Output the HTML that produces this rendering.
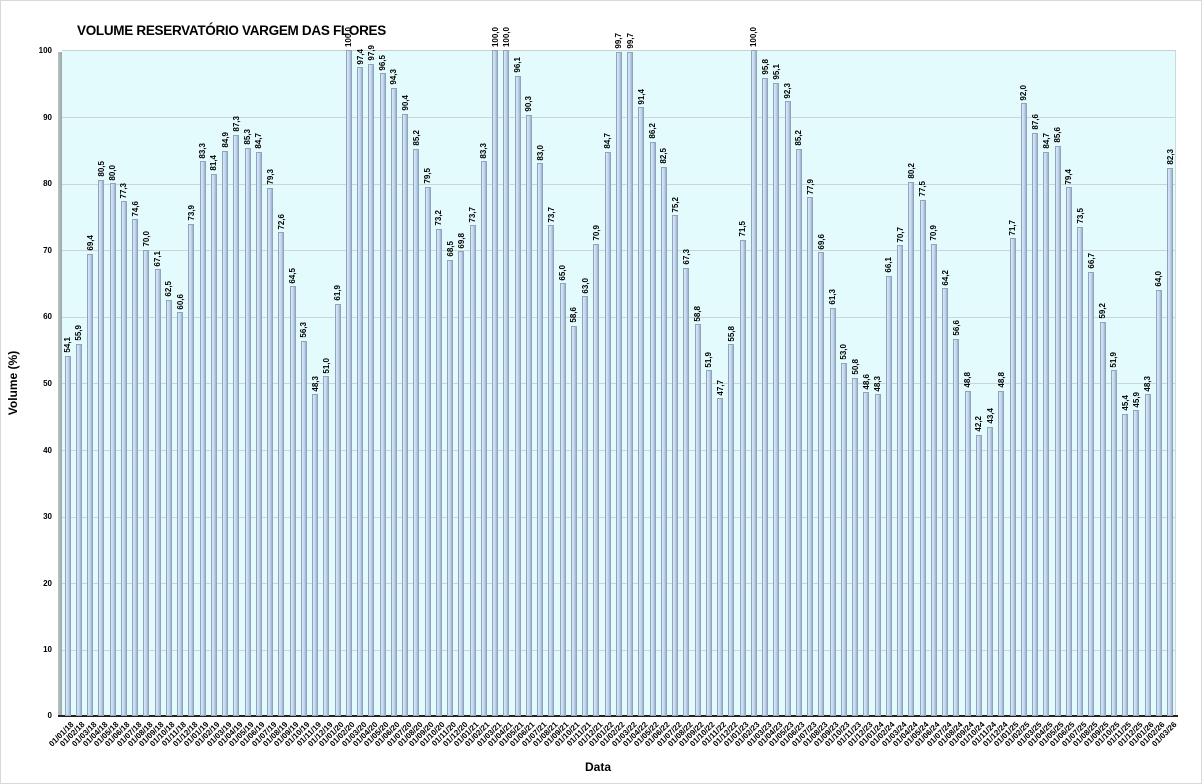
<!DOCTYPE html>
<html><head><meta charset="utf-8"><style>
*{margin:0;padding:0}
body{width:1202px;height:784px;background:#fff;position:relative;overflow:hidden;font-family:"Liberation Sans",Arial,sans-serif}
.frame{position:absolute;left:0;top:0;width:1200px;height:782px;border:1px solid #d9d9d9}
.title{position:absolute;left:77px;top:23px;font-size:13.5px;font-weight:bold;color:#000;letter-spacing:-0.3px;white-space:nowrap}
.wall{position:absolute;left:58px;top:52px;width:4px;height:664px;background:linear-gradient(90deg,#b8c4c4,#98a8a8)}
.plot{position:absolute;left:62px;top:50px;width:1114px;height:666px;background:#e4fbfd;border-top:1px solid #c8d0d0;border-right:1px solid #d0d8d8;box-sizing:border-box}
.grid{position:absolute;left:0;width:100%;height:1px;background:#c9d6d8}
.floor{position:absolute;left:58px;top:715px;width:1120px;height:2px;background:#222}
.yl{position:absolute;left:20px;width:32px;text-align:right;font-size:8px;font-weight:bold;color:#000}
.cols{position:absolute;left:62px;top:50px;width:1114px;height:666px;display:flex}
i{display:block;position:relative;width:11.25px;height:666px;flex:none;font-style:normal}
i::before{content:"";position:absolute;bottom:0;left:2.5px;width:6px;height:calc(var(--v)*6.66px);background:linear-gradient(90deg,#dbe8f7,#c2d6ee 55%,#98b0cc);border:0.5px solid #90a4bc;box-sizing:border-box}
b{position:absolute;left:1px;bottom:calc(var(--v)*6.66px + 3px);writing-mode:vertical-rl;transform:rotate(180deg);font-size:8px;font-weight:bold;line-height:9px;color:#000}
u{text-decoration:none;position:absolute;top:670px;right:4px;font-size:8px;font-weight:bold;white-space:nowrap;transform:rotate(-45deg);transform-origin:100% 0;color:#000}
.ax{position:absolute;font-size:12px;font-weight:bold;color:#000;white-space:nowrap}
</style></head><body>
<div class="frame"></div>
<div class="plot">
<div class="grid" style="top:66px"></div><div class="grid" style="top:133px"></div><div class="grid" style="top:199px"></div><div class="grid" style="top:266px"></div><div class="grid" style="top:332px"></div><div class="grid" style="top:399px"></div><div class="grid" style="top:466px"></div><div class="grid" style="top:532px"></div><div class="grid" style="top:599px"></div>
</div>
<div class="wall"></div>
<div class="floor"></div>
<div class="yl" style="top:46px">100</div><div class="yl" style="top:113px">90</div><div class="yl" style="top:179px">80</div><div class="yl" style="top:246px">70</div><div class="yl" style="top:312px">60</div><div class="yl" style="top:379px">50</div><div class="yl" style="top:446px">40</div><div class="yl" style="top:512px">30</div><div class="yl" style="top:579px">20</div><div class="yl" style="top:645px">10</div><div class="yl" style="top:711px">0</div>
<div class="cols">
<i style="--v:54.1"><b>54,1</b><u>01/01/18</u></i><i style="--v:55.9"><b>55,9</b><u>01/02/18</u></i><i style="--v:69.4"><b>69,4</b><u>01/03/18</u></i><i style="--v:80.5"><b>80,5</b><u>01/04/18</u></i><i style="--v:80.0"><b>80,0</b><u>01/05/18</u></i><i style="--v:77.3"><b>77,3</b><u>01/06/18</u></i><i style="--v:74.6"><b>74,6</b><u>01/07/18</u></i><i style="--v:70.0"><b>70,0</b><u>01/08/18</u></i><i style="--v:67.1"><b>67,1</b><u>01/09/18</u></i><i style="--v:62.5"><b>62,5</b><u>01/10/18</u></i><i style="--v:60.6"><b>60,6</b><u>01/11/18</u></i><i style="--v:73.9"><b>73,9</b><u>01/12/18</u></i>
<i style="--v:83.3"><b>83,3</b><u>01/01/19</u></i><i style="--v:81.4"><b>81,4</b><u>01/02/19</u></i><i style="--v:84.9"><b>84,9</b><u>01/03/19</u></i><i style="--v:87.3"><b>87,3</b><u>01/04/19</u></i><i style="--v:85.3"><b>85,3</b><u>01/05/19</u></i><i style="--v:84.7"><b>84,7</b><u>01/06/19</u></i><i style="--v:79.3"><b>79,3</b><u>01/07/19</u></i><i style="--v:72.6"><b>72,6</b><u>01/08/19</u></i><i style="--v:64.5"><b>64,5</b><u>01/09/19</u></i><i style="--v:56.3"><b>56,3</b><u>01/10/19</u></i><i style="--v:48.3"><b>48,3</b><u>01/11/19</u></i><i style="--v:51.0"><b>51,0</b><u>01/12/19</u></i>
<i style="--v:61.9"><b>61,9</b><u>01/01/20</u></i><i style="--v:100"><b>100,0</b><u>01/02/20</u></i><i style="--v:97.4"><b>97,4</b><u>01/03/20</u></i><i style="--v:97.9"><b>97,9</b><u>01/04/20</u></i><i style="--v:96.5"><b>96,5</b><u>01/05/20</u></i><i style="--v:94.3"><b>94,3</b><u>01/06/20</u></i><i style="--v:90.4"><b>90,4</b><u>01/07/20</u></i><i style="--v:85.2"><b>85,2</b><u>01/08/20</u></i><i style="--v:79.5"><b>79,5</b><u>01/09/20</u></i><i style="--v:73.2"><b>73,2</b><u>01/10/20</u></i><i style="--v:68.5"><b>68,5</b><u>01/11/20</u></i><i style="--v:69.8"><b>69,8</b><u>01/12/20</u></i>
<i style="--v:73.7"><b>73,7</b><u>01/01/21</u></i><i style="--v:83.3"><b>83,3</b><u>01/02/21</u></i><i style="--v:100"><b>100,0</b><u>01/03/21</u></i><i style="--v:100"><b>100,0</b><u>01/04/21</u></i><i style="--v:96.1"><b>96,1</b><u>01/05/21</u></i><i style="--v:90.3"><b>90,3</b><u>01/06/21</u></i><i style="--v:83.0"><b>83,0</b><u>01/07/21</u></i><i style="--v:73.7"><b>73,7</b><u>01/08/21</u></i><i style="--v:65.0"><b>65,0</b><u>01/09/21</u></i><i style="--v:58.6"><b>58,6</b><u>01/10/21</u></i><i style="--v:63.0"><b>63,0</b><u>01/11/21</u></i><i style="--v:70.9"><b>70,9</b><u>01/12/21</u></i>
<i style="--v:84.7"><b>84,7</b><u>01/01/22</u></i><i style="--v:99.7"><b>99,7</b><u>01/02/22</u></i><i style="--v:99.7"><b>99,7</b><u>01/03/22</u></i><i style="--v:91.4"><b>91,4</b><u>01/04/22</u></i><i style="--v:86.2"><b>86,2</b><u>01/05/22</u></i><i style="--v:82.5"><b>82,5</b><u>01/06/22</u></i><i style="--v:75.2"><b>75,2</b><u>01/07/22</u></i><i style="--v:67.3"><b>67,3</b><u>01/08/22</u></i><i style="--v:58.8"><b>58,8</b><u>01/09/22</u></i><i style="--v:51.9"><b>51,9</b><u>01/10/22</u></i><i style="--v:47.7"><b>47,7</b><u>01/11/22</u></i><i style="--v:55.8"><b>55,8</b><u>01/12/22</u></i>
<i style="--v:71.5"><b>71,5</b><u>01/01/23</u></i><i style="--v:100"><b>100,0</b><u>01/02/23</u></i><i style="--v:95.8"><b>95,8</b><u>01/03/23</u></i><i style="--v:95.1"><b>95,1</b><u>01/04/23</u></i><i style="--v:92.3"><b>92,3</b><u>01/05/23</u></i><i style="--v:85.2"><b>85,2</b><u>01/06/23</u></i><i style="--v:77.9"><b>77,9</b><u>01/07/23</u></i><i style="--v:69.6"><b>69,6</b><u>01/08/23</u></i><i style="--v:61.3"><b>61,3</b><u>01/09/23</u></i><i style="--v:53.0"><b>53,0</b><u>01/10/23</u></i><i style="--v:50.8"><b>50,8</b><u>01/11/23</u></i><i style="--v:48.6"><b>48,6</b><u>01/12/23</u></i>
<i style="--v:48.3"><b>48,3</b><u>01/01/24</u></i><i style="--v:66.1"><b>66,1</b><u>01/02/24</u></i><i style="--v:70.7"><b>70,7</b><u>01/03/24</u></i><i style="--v:80.2"><b>80,2</b><u>01/04/24</u></i><i style="--v:77.5"><b>77,5</b><u>01/05/24</u></i><i style="--v:70.9"><b>70,9</b><u>01/06/24</u></i><i style="--v:64.2"><b>64,2</b><u>01/07/24</u></i><i style="--v:56.6"><b>56,6</b><u>01/08/24</u></i><i style="--v:48.8"><b>48,8</b><u>01/09/24</u></i><i style="--v:42.2"><b>42,2</b><u>01/10/24</u></i><i style="--v:43.4"><b>43,4</b><u>01/11/24</u></i><i style="--v:48.8"><b>48,8</b><u>01/12/24</u></i>
<i style="--v:71.7"><b>71,7</b><u>01/01/25</u></i><i style="--v:92.0"><b>92,0</b><u>01/02/25</u></i><i style="--v:87.6"><b>87,6</b><u>01/03/25</u></i><i style="--v:84.7"><b>84,7</b><u>01/04/25</u></i><i style="--v:85.6"><b>85,6</b><u>01/05/25</u></i><i style="--v:79.4"><b>79,4</b><u>01/06/25</u></i><i style="--v:73.5"><b>73,5</b><u>01/07/25</u></i><i style="--v:66.7"><b>66,7</b><u>01/08/25</u></i><i style="--v:59.2"><b>59,2</b><u>01/09/25</u></i><i style="--v:51.9"><b>51,9</b><u>01/10/25</u></i><i style="--v:45.4"><b>45,4</b><u>01/11/25</u></i><i style="--v:45.9"><b>45,9</b><u>01/12/25</u></i>
<i style="--v:48.3"><b>48,3</b><u>01/01/26</u></i><i style="--v:64.0"><b>64,0</b><u>01/02/26</u></i><i style="--v:82.3"><b>82,3</b><u>01/03/26</u></i>
</div>
<div class="title">VOLUME RESERVATÓRIO VARGEM DAS FLORES</div>
<div class="ax" style="left:-22px;top:376px;transform:rotate(-90deg);width:70px;text-align:center">Volume (%)</div>
<div class="ax" style="left:585px;top:760px">Data</div>
</body></html>
